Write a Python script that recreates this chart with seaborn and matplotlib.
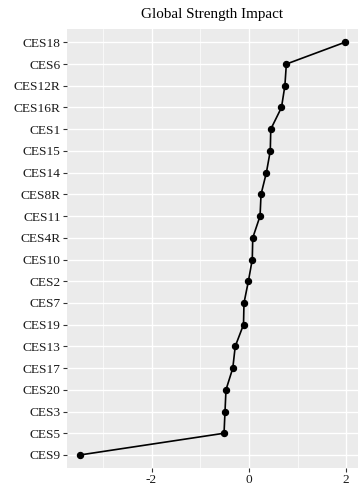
import matplotlib
matplotlib.use("Agg")
import matplotlib.pyplot as plt
import seaborn as sns
import pandas as pd
from matplotlib.ticker import FixedLocator

# Items ordered from strongest to weakest global strength impact
items = ["CES18", "CES6", "CES12R", "CES16R", "CES1", "CES15", "CES14", "CES8R",
         "CES11", "CES4R", "CES10", "CES2", "CES7", "CES19", "CES13", "CES17",
         "CES20", "CES3", "CES5", "CES9"]
impact = [1.97, 0.77, 0.74, 0.67, 0.45, 0.44, 0.36, 0.25, 0.23, 0.08,
          0.07, -0.01, -0.10, -0.11, -0.28, -0.33, -0.47, -0.49, -0.51, -3.47]
x_ticks = [-2, 0, 2]
x_minor = [-3, -1, 1]
title = "Global Strength Impact"

df = pd.DataFrame({"item": items, "impact": impact})

sns.set_theme(style="darkgrid")
plt.rcParams["font.family"] = ["Liberation Serif", "DejaVu Serif"]

fig = plt.figure(figsize=(3.58, 4.90), dpi=100)
ax = fig.add_axes([66.7 / 358, 1 - 468 / 490, 1 - 66.7 / 358, (468 - 29.3) / 490])
ax.set_facecolor("#EBEBEB")

sns.pointplot(data=df, x="impact", y="item", order=items, orient="y",
              color="black", markers="o", linestyles="-",
              markersize=4.4, linewidth=1.2, errorbar=None, ax=ax)

# ggplot-like axis expansion
lo, hi = min(impact), max(impact)
pad = 0.05 * (hi - lo)
ax.set_xlim(lo - pad, hi + pad)
ax.set_ylim(len(items) - 1 + 0.6, -0.6)

ax.xaxis.set_major_locator(FixedLocator(x_ticks))
ax.xaxis.set_minor_locator(FixedLocator(x_minor))
ax.set_xticklabels([str(t) for t in x_ticks])

ax.grid(which="major", axis="both", color="white", linewidth=1.0)
ax.grid(which="minor", axis="x", color="white", linewidth=0.5)
ax.set_axisbelow(True)
for s in ax.spines.values():
    s.set_visible(False)

ax.tick_params(axis="both", which="major", bottom=True, left=True,
               length=2.75, width=0.8, color="#333333",
               labelsize=9.6, labelcolor="#1a1a1a", pad=1.6)
ax.tick_params(axis="both", which="minor", length=0)
ax.set_xlabel("")
ax.set_ylabel("")
ax.set_title(title, fontsize=10.9, color="black", pad=8)

fig.savefig("out.png", dpi=100)
